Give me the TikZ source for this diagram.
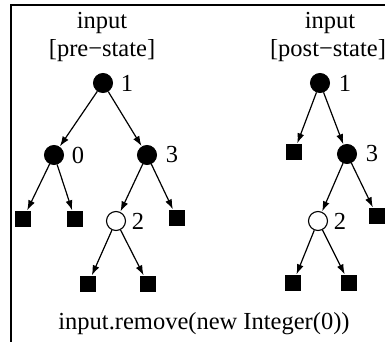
\documentclass[tikz,border=0pt]{standalone}
\usepackage{fontspec}
\setmainfont{Liberation Serif}
\usetikzlibrary{arrows.meta}
\begin{document}
\begin{tikzpicture}[x=1pt,y=-1pt,
  font=\fontsize{24.5}{28}\selectfont,
  full/.style={circle,fill=black,draw=black,line width=1pt,minimum size=19pt,inner sep=0pt},
  open/.style={circle,fill=white,draw=black,line width=1.1pt,minimum size=19pt,inner sep=0pt},
  leaf/.style={rectangle,fill=black,minimum size=16pt,inner sep=0pt},
  lbl/.style={inner sep=0pt,anchor=center},
  ttl/.style={inner sep=0pt,anchor=base,align=center},
  edge/.style={line width=1.2pt,-{Latex[length=10pt,width=7pt]},shorten >=0.5pt},
  frame/.style={line width=1.2pt}]
\useasboundingbox (0,0) rectangle (385,342);
\clip (0,0) rectangle (385,342);
% frame
\coordinate (ftr) at (390,5);
\coordinate (ftl) at (11,5);
\coordinate (fbl) at (11,345);
\draw[frame] (ftr) -- (ftl) -- (fbl);
% titles
\node[ttl] (t1a) at (102,29) {input};
\node[ttl] (t1b) at (102,57) {[pre−state]};
\node[ttl] (t2a) at (330,29) {input};
\node[ttl] (t2b) at (328,57) {[post−state]};
\node[ttl] (cap) at (204,329) {input.remove(new Integer(0))};
% pre-state tree
\node[full] (a1) at (103,83) {};
\node[lbl] (la1) at (127,83) {1};
\node[full] (a0) at (54,155) {};
\node[lbl] (la0) at (78,155) {0};
\node[full] (a3) at (147,155) {};
\node[lbl] (la3) at (172,155) {3};
\node[leaf] (a00) at (23,219) {};
\node[leaf] (a01) at (75,219) {};
\node[open] (a2) at (116,221) {};
\node[lbl] (la2) at (138,221) {2};
\node[leaf] (a3r) at (177,218) {};
\node[leaf] (a20) at (88,284) {};
\node[leaf] (a21) at (148,284) {};
\draw[edge] (a1) -- (a0);
\draw[edge] (a1) -- (a3);
\draw[edge] (a0) -- (a00);
\draw[edge] (a0) -- (a01);
\draw[edge] (a3) -- (a2);
\draw[edge] (a3) -- (a3r);
\draw[edge] (a2) -- (a20);
\draw[edge] (a2) -- (a21);
% post-state tree
\node[full] (b1) at (320,83) {};
\node[lbl] (lb1) at (345,83) {1};
\node[leaf] (b0) at (294,152) {};
\node[full] (b3) at (347,154) {};
\node[lbl] (lb3) at (372,154) {3};
\node[open] (b2) at (318,221) {};
\node[lbl] (lb2) at (340,221) {2};
\node[leaf] (b3r) at (377,216) {};
\node[leaf] (b20) at (293,283) {};
\node[leaf] (b21) at (349,283) {};
\draw[edge] (b1) -- (b0);
\draw[edge] (b1) -- (b3);
\draw[edge] (b3) -- (b2);
\draw[edge] (b3) -- (b3r);
\draw[edge] (b2) -- (b20);
\draw[edge] (b2) -- (b21);
\end{tikzpicture}
\end{document}
